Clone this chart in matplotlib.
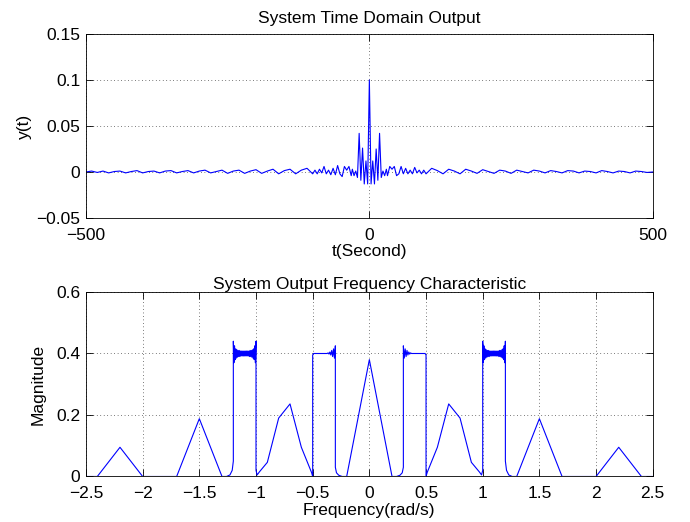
import numpy as np
import matplotlib
matplotlib.use("Agg")
import matplotlib.pyplot as plt
from matplotlib.ticker import FuncFormatter

plt.rcParams['font.family'] = ['Liberation Sans', 'DejaVu Sans']
plt.rcParams['font.size'] = 12.5

# ---- time domain output ----
t_far_left = np.arange(-500, -99, 10)
y_far_left = [0.0, 0.001, -0.0005, 0.001, -0.001, 0.0005, 0.001, -0.001, 0.0005, 0.0015,
              -0.001, 0.0005, 0.001, -0.001, 0.001, 0.0015, -0.001, 0.0005, 0.0015, -0.001,
              0.001, 0.002, -0.001, 0.0005, 0.002, -0.0015, 0.001, 0.002, -0.0015, 0.001,
              0.0025, -0.0015, 0.001, 0.003, -0.002, 0.0015, 0.003, -0.002, 0.002, 0.004,
              -0.002]
t_mid_left = np.arange(-96, -31, 4)
y_mid_left = [0.002, -0.002, 0.003, -0.001, 0.006, -0.002, 0.002, -0.003, 0.004,
              -0.003, 0.007, -0.002, -0.005, 0.006, 0.002, 0.006, -0.004]
t_center = np.arange(-30, 31, 3)
y_center = [0.003, -0.004, 0.001, -0.006, 0.042, -0.009, 0.026, -0.013, 0.012, -0.013,
            0.100,
            -0.013, 0.012, -0.013, 0.025, -0.009, 0.042, -0.006, 0.001, -0.004, 0.003]
t_mid_right = np.arange(32, 97, 4)
y_mid_right = [-0.004, 0.006, 0.003, 0.006, -0.004, -0.002, 0.006, -0.002, 0.004,
               -0.002, 0.002, -0.002, 0.005, -0.001, 0.002, -0.002, 0.002]
t_far_right = np.arange(100, 501, 10)
y_far_right = [-0.002, 0.004, 0.0015, -0.002, 0.003, 0.001, -0.002, 0.003, 0.001, -0.0015,
               0.0025, 0.0005, -0.0015, 0.002, 0.001, -0.0015, 0.002, 0.0005, -0.001, 0.002,
               0.001, -0.001, 0.0015, 0.0005, -0.001, 0.0015, 0.001, -0.001, 0.001, 0.0005,
               -0.001, 0.0015, 0.0005, -0.001, 0.001, 0.0005, -0.001, 0.001, 0.0005, -0.0005,
               0.0]

# ---- output frequency characteristic ----
f_seg1 = [-2.5, -2.4, -2.2, -2.0, -1.7, -1.5, -1.3, -1.26, -1.23, -1.21, -1.2]
m_seg1 = [0, 0, 0.095, 0, 0, 0.188, 0, 0, 0.005, 0.02, 0.05]
top_outer = [0.44, 0.37, 0.425, 0.38, 0.415, 0.385, 0.412, 0.388, 0.41, 0.39, 0.41, 0.39,
             0.408, 0.392, 0.408, 0.392, 0.408, 0.392, 0.408, 0.392, 0.408, 0.392, 0.408,
             0.392, 0.408, 0.392, 0.408, 0.39, 0.41, 0.39, 0.41, 0.388, 0.412, 0.385, 0.415,
             0.38, 0.425, 0.37, 0.44]
f_seg2 = [-1.0, -0.99, -0.97, -0.9, -0.8, -0.7, -0.6, -0.51, -0.5]
m_seg2 = [0.02, 0.005, 0.015, 0.046, 0.19, 0.236, 0.095, 0.013, 0.0]
top_inner_left = [0.395, 0.4, 0.4, 0.4, 0.4, 0.4, 0.4, 0.4, 0.4, 0.4, 0.4, 0.4, 0.4, 0.4,
                  0.4, 0.4, 0.4, 0.402, 0.398, 0.405, 0.395, 0.41, 0.39, 0.415, 0.385, 0.425]
f_seg3 = [-0.3, -0.29, -0.27, -0.24, -0.2, 0.0, 0.2, 0.24, 0.27, 0.29, 0.3]
m_seg3 = [0.03, 0.012, 0.004, 0.0, 0.0, 0.38, 0.0, 0.0, 0.004, 0.012, 0.03]
top_inner_right = [0.425, 0.385, 0.415, 0.39, 0.41, 0.395, 0.405, 0.398, 0.402, 0.4, 0.4,
                   0.4, 0.4, 0.4, 0.4, 0.4, 0.4, 0.4, 0.4, 0.4, 0.4, 0.4, 0.4, 0.4, 0.4,
                   0.395]
f_seg4 = [0.5, 0.51, 0.6, 0.7, 0.8, 0.9, 0.97, 0.99, 1.0]
m_seg4 = [0.0, 0.013, 0.095, 0.236, 0.19, 0.046, 0.015, 0.005, 0.02]
f_seg5 = [1.2, 1.21, 1.23, 1.26, 1.3, 1.5, 1.7, 2.0, 2.2, 2.4, 2.5]
m_seg5 = [0.05, 0.02, 0.005, 0, 0, 0.188, 0, 0, 0.095, 0, 0]


def fmt(x, pos):
    # MATLAB-like labels with a real minus sign
    return ('%g' % x).replace('-', '\u2212')


def style(ax):
    ax.tick_params(direction='in', top=True, right=True, length=5, width=0.6)
    ax.tick_params(axis='x', pad=7)
    ax.tick_params(axis='y', pad=4)
    for s in ax.spines.values():
        s.set_linewidth(0.6)
    ax.grid(True, color='k', linestyle=(0, (1, 4)), linewidth=0.5)
    ax.xaxis.set_major_formatter(FuncFormatter(fmt))
    ax.yaxis.set_major_formatter(FuncFormatter(fmt))


def main():
    t = np.concatenate([t_far_left, t_mid_left, t_center, t_mid_right, t_far_right])
    y = np.concatenate([y_far_left, y_mid_left, y_center, y_mid_right, y_far_right])

    f = np.concatenate([f_seg1, np.linspace(-1.2, -1.0, len(top_outer)), f_seg2,
                        np.linspace(-0.5, -0.3, len(top_inner_left)), f_seg3,
                        np.linspace(0.3, 0.5, len(top_inner_right)), f_seg4,
                        np.linspace(1.0, 1.2, len(top_outer)), f_seg5])
    m = np.concatenate([m_seg1, top_outer, m_seg2, top_inner_left, m_seg3,
                        top_inner_right, m_seg4, top_outer, m_seg5])

    fig = plt.figure(figsize=(6.9, 5.22), dpi=100)
    fig.patch.set_facecolor('white')

    ax1 = fig.add_axes([0.1246, 0.5824, 0.8214, 0.3525])
    ax1.plot(t, y, color='b', linewidth=0.8)
    ax1.set_xlim(-500, 500)
    ax1.set_ylim(-0.05, 0.15)
    ax1.set_xticks([-500, 0, 500])
    ax1.set_yticks([-0.05, 0, 0.05, 0.1, 0.15])
    style(ax1)
    ax1.set_title("System Time Domain Output", fontsize=12.5, pad=8)
    ax1.set_xlabel("t(Second)", labelpad=1)
    ax1.set_ylabel("y(t)", labelpad=3)

    ax2 = fig.add_axes([0.1246, 0.0872, 0.8214, 0.3534])
    ax2.plot(f, m, color='b', linewidth=0.8)
    ax2.set_xlim(-2.5, 2.5)
    ax2.set_ylim(0, 0.6)
    ax2.set_xticks(np.arange(-2.5, 2.51, 0.5))
    ax2.set_yticks([0, 0.2, 0.4, 0.6])
    style(ax2)
    ax2.set_title("System Output Frequency Characteristic", fontsize=12.5, pad=2)
    ax2.set_xlabel("Frequency(rad/s)", labelpad=1)
    ax2.set_ylabel("Magnitude", labelpad=8)

    fig.savefig("out.png", dpi=100)


if __name__ == "__main__":
    main()
